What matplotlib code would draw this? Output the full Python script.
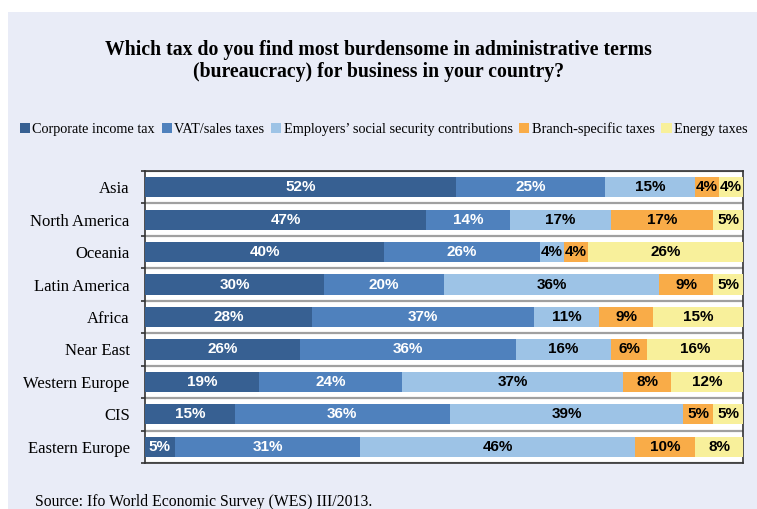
import matplotlib
matplotlib.use("Agg")
import matplotlib.pyplot as plt
from matplotlib.patches import Rectangle
import numpy as np

regions = ["Asia", "North America", "Oceania", "Latin America", "Africa",
           "Near East", "Western Europe", "CIS", "Eastern Europe"]
series_names = ["Corporate income tax", "VAT/sales taxes",
                "Employers\u2019 social security contributions",
                "Branch-specific taxes", "Energy taxes"]
corporate = [52, 47, 40, 30, 28, 26, 19, 15, 5]
vat = [25, 14, 26, 20, 37, 36, 24, 36, 31]
employers = [15, 17, 4, 36, 11, 16, 37, 39, 46]
branch = [4, 17, 4, 9, 9, 6, 8, 5, 10]
energy = [4, 5, 26, 5, 15, 16, 12, 5, 8]

series = [corporate, vat, employers, branch, energy]
colors = ["#376092", "#4F81BD", "#9DC3E6", "#F9AC48", "#F8F09B"]
text_colors = ["white", "white", "black", "black", "black"]

fig = plt.figure(figsize=(7.57, 5.09), dpi=100)
fig.patch.set_facecolor("white")
fig.patches.append(Rectangle((8 / 757, 0), 1 - 8 / 757, (509 - 12) / 509,
                             transform=fig.transFigure, facecolor="#E9ECF7",
                             edgecolor="none", zorder=-10))

ax = fig.add_axes([145 / 757, 1 - 463 / 509, (743 - 145) / 757, (463 - 171) / 509])
ax.set_facecolor("white")

y = np.arange(len(regions))
left = np.zeros(len(regions))
for vals, col, tc, name in zip(series, colors, text_colors, series_names):
    vals = np.array(vals, dtype=float)
    ax.barh(y, vals, left=left, height=0.62, color=col, label=name,
            edgecolor="none", zorder=3)
    for yi, (l, v) in enumerate(zip(left, vals)):
        ax.text(l + v / 2, yi, f"{int(v)}%", ha="center", va="center",
                color=tc, fontsize=11, fontweight="bold",
                family="Liberation Sans", zorder=4)
    left += vals

ax.set_xlim(0, 100)
ax.set_ylim(len(regions) - 0.5, -0.5)
ax.set_xticks([])
ax.set_yticks(y)
ax.set_yticklabels(regions, family="Liberation Serif", fontsize=12)
ax.tick_params(axis="y", length=0, pad=11)
ax.set_yticks(np.arange(-0.5, len(regions)), minor=True)
ax.tick_params(axis="y", which="minor", length=3, width=1.2, color="#333333")
ax.grid(axis="y", which="minor", color="#a0a0a0", linewidth=1.6, zorder=1)
for s in ax.spines.values():
    s.set_color("#333333")
    s.set_linewidth(1.2)

fig.text(0.5, 1 - 61 / 509,
         "Which tax do you find most burdensome in administrative terms\n(bureaucracy) for business in your country?",
         ha="center", va="center", family="Liberation Serif", fontweight="bold",
         fontsize=14.2, linespacing=1.15)

leg = fig.legend(loc="center", bbox_to_anchor=(0.507, 1 - 129 / 509), ncol=5,
                 frameon=False, prop={"family": "Liberation Serif", "size": 10.3},
                 handlelength=0.7, handleheight=0.7, handletextpad=0.2,
                 columnspacing=0.45, borderaxespad=0)

fig.text(35 / 757, 1 - 502 / 509, "Source: Ifo World Economic Survey (WES) III/2013.",
         ha="left", va="center", family="Liberation Serif", fontsize=11.3)

fig.savefig("out.png", dpi=100)
